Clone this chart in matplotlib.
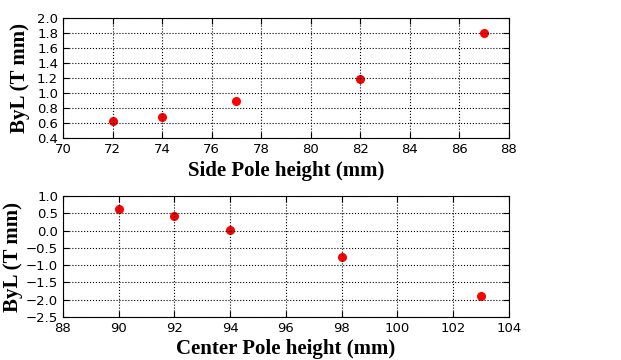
import matplotlib
matplotlib.use('Agg')
import matplotlib.pyplot as plt

# Side pole scan
side_height = [72, 74, 77, 82, 87]
side_byl = [0.63, 0.68, 0.90, 1.19, 1.80]

# Center pole scan
center_height = [90, 92, 94, 98, 103]
center_byl = [0.62, 0.43, 0.03, -0.77, -1.90]

label_font = {'family': 'Liberation Serif', 'weight': 'bold', 'size': 15}


def style_axis(ax):
    ax.tick_params(direction='in', top=True, right=True, labelsize=9.5, length=4)
    ax.grid(True, color='k', linestyle=':', linewidth=0.8)
    ax.set_axisbelow(False)


def main():
    fig = plt.figure(figsize=(6.21, 3.6), dpi=100)

    ax1 = fig.add_axes([0.1014, 0.6167, 0.718, 0.333])
    ax1.plot(side_height, side_byl, 'o', color='r', mec='r', ms=5.5)
    ax1.set_xlim(70, 88)
    ax1.set_ylim(0.4, 2.0)
    ax1.set_xticks(range(70, 89, 2))
    ax1.set_yticks([0.4, 0.6, 0.8, 1.0, 1.2, 1.4, 1.6, 1.8, 2.0])
    ax1.set_xlabel('Side Pole height (mm)', fontdict=label_font, labelpad=4)
    ax1.set_ylabel('ByL (T mm)', fontdict=label_font, labelpad=5)
    style_axis(ax1)

    ax2 = fig.add_axes([0.1014, 0.1194, 0.718, 0.336])
    ax2.plot(center_height, center_byl, 'o', color='r', mec='r', ms=5.5)
    ax2.set_xlim(88, 104)
    ax2.set_ylim(-2.5, 1.0)
    ax2.set_xticks(range(88, 105, 2))
    ax2.set_yticks([-2.5, -2.0, -1.5, -1.0, -0.5, 0.0, 0.5, 1.0])
    ax2.set_xlabel('Center Pole height (mm)', fontdict=label_font, labelpad=3)
    ax2.set_ylabel('ByL (T mm)', fontdict=label_font, labelpad=2)
    style_axis(ax2)

    fig.savefig('out.png', dpi=100)


if __name__ == '__main__':
    main()
